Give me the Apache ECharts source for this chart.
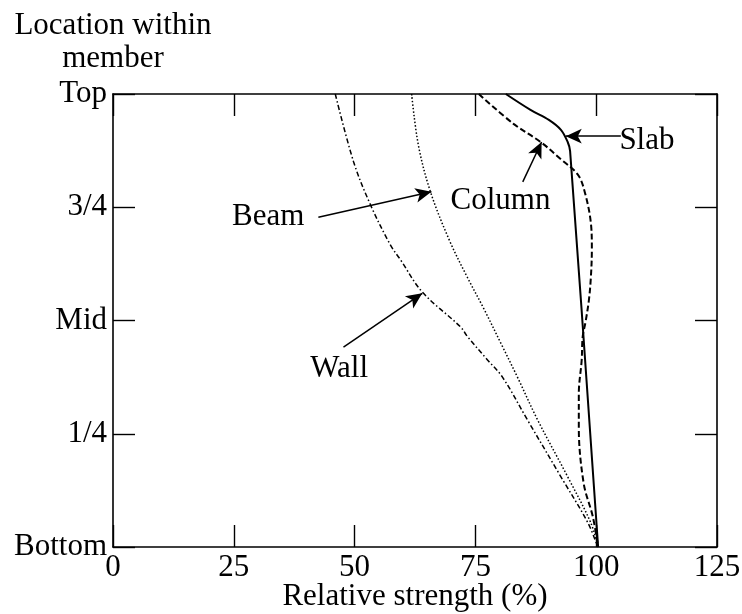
<!DOCTYPE html>
<html>
<head>
<meta charset="utf-8">
<script src="https://cdn.jsdelivr.net/npm/echarts@6/dist/echarts.min.js"></script>
<style>
  html, body { margin: 0; padding: 0; background: #fff; }
  #chart { width: 742px; height: 614px; }
</style>
</head>
<body>
<div id="chart"></div>
<script>
// Position along the member: 0 = bottom, 1 = top
const levelLabels = ['Bottom', '1/4', 'Mid', '3/4', 'Top'];
const strengthTicks = [0, 25, 50, 75, 100, 125];

// Slab (solid)
const slabLevel    = [1.0, 0.965, 0.943, 0.921, 0.894, 0.874, 0.0];
const slabStrength = [81.3, 86.4, 90.2, 92.7, 94.1, 94.6, 100.4];

// Column (dashed)
const columnLevel    = [1.0, 0.934, 0.894, 0.856, 0.822, 0.785, 0.715, 0.656, 0.596, 0.546, 0.497, 0.464, 0.413, 0.338, 0.265, 0.141, 0.067, 0.0];
const columnStrength = [75.7, 82.9, 88.5, 92.7, 96.2, 97.6, 98.9, 99.1, 98.9, 98.5, 97.8, 97.2, 97.0, 96.4, 96.4, 97.4, 99.3, 100.4];

// Beam (dotted)
const beamLevel    = [1.0, 0.887, 0.784, 0.675, 0.596, 0.529, 0.447, 0.375, 0.280, 0.155, 0.053, 0.0];
const beamStrength = [61.8, 63.2, 65.7, 69.7, 73.3, 76.6, 80.4, 83.7, 87.9, 94.1, 98.9, 100.4];

// Wall (dash-dot)
const wallLevel    = [1.0, 0.850, 0.755, 0.667, 0.634, 0.563, 0.486, 0.464, 0.413, 0.375, 0.280, 0.155, 0.053, 0.0];
const wallStrength = [46.0, 49.8, 53.3, 57.4, 59.5, 64.0, 71.9, 73.4, 77.5, 80.6, 85.8, 92.7, 98.3, 100.3];

// Callout labels and their arrows (tail -> head), in data units
const calloutNames    = ['Beam', 'Column', 'Slab', 'Wall'];
const calloutStrength = [32.1, 80.2, 110.5, 46.8];
const calloutLevel    = [0.728, 0.764, 0.896, 0.393];
const arrowTailStrength = [42.5, 84.8, 105.1, 47.7];
const arrowTailLevel    = [0.728, 0.806, 0.907, 0.441];
const arrowHeadStrength = [65.9, 88.7, 93.7, 64.0];
const arrowHeadLevel    = [0.784, 0.894, 0.907, 0.560];

const FONT = "'Liberation Serif', 'Times New Roman', serif";
const FS = 31;

function pairs(xs, ys) { return xs.map((x, i) => [x, ys[i]]); }

const axisLine = { show: true, onZero: false, lineStyle: { color: '#000', width: 1.6 } };
const tick = { show: true, inside: true, length: 22, lineStyle: { color: '#000', width: 1.4 } };

function curve(name, xs, ys, width, dash) {
  return {
    name, type: 'line', data: pairs(xs, ys),
    showSymbol: false, smooth: 0.35,
    lineStyle: { color: '#000', width, type: dash },
    silent: true, z: 3
  };
}

const chart = echarts.init(document.getElementById('chart'), null, { renderer: 'canvas' });
chart.setOption({
  animation: false,
  backgroundColor: '#fff',
  grid: { left: 113, right: 25, top: 94, bottom: 67, containLabel: false, outerBoundsMode: 'none' },
  xAxis: [
    {
      type: 'value', min: strengthTicks[0], max: strengthTicks[strengthTicks.length - 1], interval: 25,
      position: 'bottom',
      name: 'Relative strength (%)', nameLocation: 'middle', nameGap: 34, nameMoveOverlap: false,
      nameTextStyle: { fontFamily: FONT, fontSize: FS, color: '#000' },
      axisLine, axisTick: tick, splitLine: { show: false },
      axisLabel: { fontFamily: FONT, fontSize: FS, color: '#000', margin: 5 }
    },
    {
      type: 'value', min: 0, max: 125, interval: 25, position: 'top',
      axisLine, axisTick: tick, splitLine: { show: false },
      axisLabel: { show: false }
    }
  ],
  yAxis: [
    {
      type: 'value', min: 0, max: 1, interval: 0.25, position: 'left',
      name: 'Location within\nmember', nameLocation: 'end', nameGap: 19, nameMoveOverlap: false,
      nameTextStyle: { fontFamily: FONT, fontSize: FS, color: '#000', align: 'center', lineHeight: 33 },
      axisLine, axisTick: tick, splitLine: { show: false },
      axisLabel: {
        fontFamily: FONT, fontSize: FS, color: '#000', margin: 6,
        formatter: v => levelLabels[Math.round(v * 4)]
      }
    },
    {
      type: 'value', min: 0, max: 1, interval: 0.25, position: 'right',
      axisLine, axisTick: tick, splitLine: { show: false },
      axisLabel: { show: false }
    }
  ],
  series: [
    curve('Slab', slabStrength, slabLevel, 2, 'solid'),
    curve('Column', columnStrength, columnLevel, 2, [6, 3]),
    curve('Beam', beamStrength, beamLevel, 1.5, [1.5, 2]),
    curve('Wall', wallStrength, wallLevel, 1.5, [5, 2.5, 1.5, 2.5]),
    {
      name: 'callouts', type: 'scatter', symbolSize: 0, silent: true, z: 5,
      itemStyle: { color: '#000', opacity: 1 },
      data: calloutNames.map((n, i) => ({ name: n, value: [calloutStrength[i], calloutLevel[i]] })),
      label: {
        show: true, position: 'inside', formatter: '{b}',
        fontFamily: FONT, fontSize: FS, color: '#000', opacity: 1
      },
      markLine: {
        silent: true, animation: false,
        symbol: ['none', 'arrow'], symbolSize: [11, 16],
        lineStyle: { color: '#000', width: 1.5, type: 'solid', opacity: 1 },
        label: { show: false },
        data: calloutNames.map((n, i) => [
          { coord: [arrowTailStrength[i], arrowTailLevel[i]] },
          { coord: [arrowHeadStrength[i], arrowHeadLevel[i]] }
        ])
      }
    }
  ]
});
</script>
</body>
</html>
